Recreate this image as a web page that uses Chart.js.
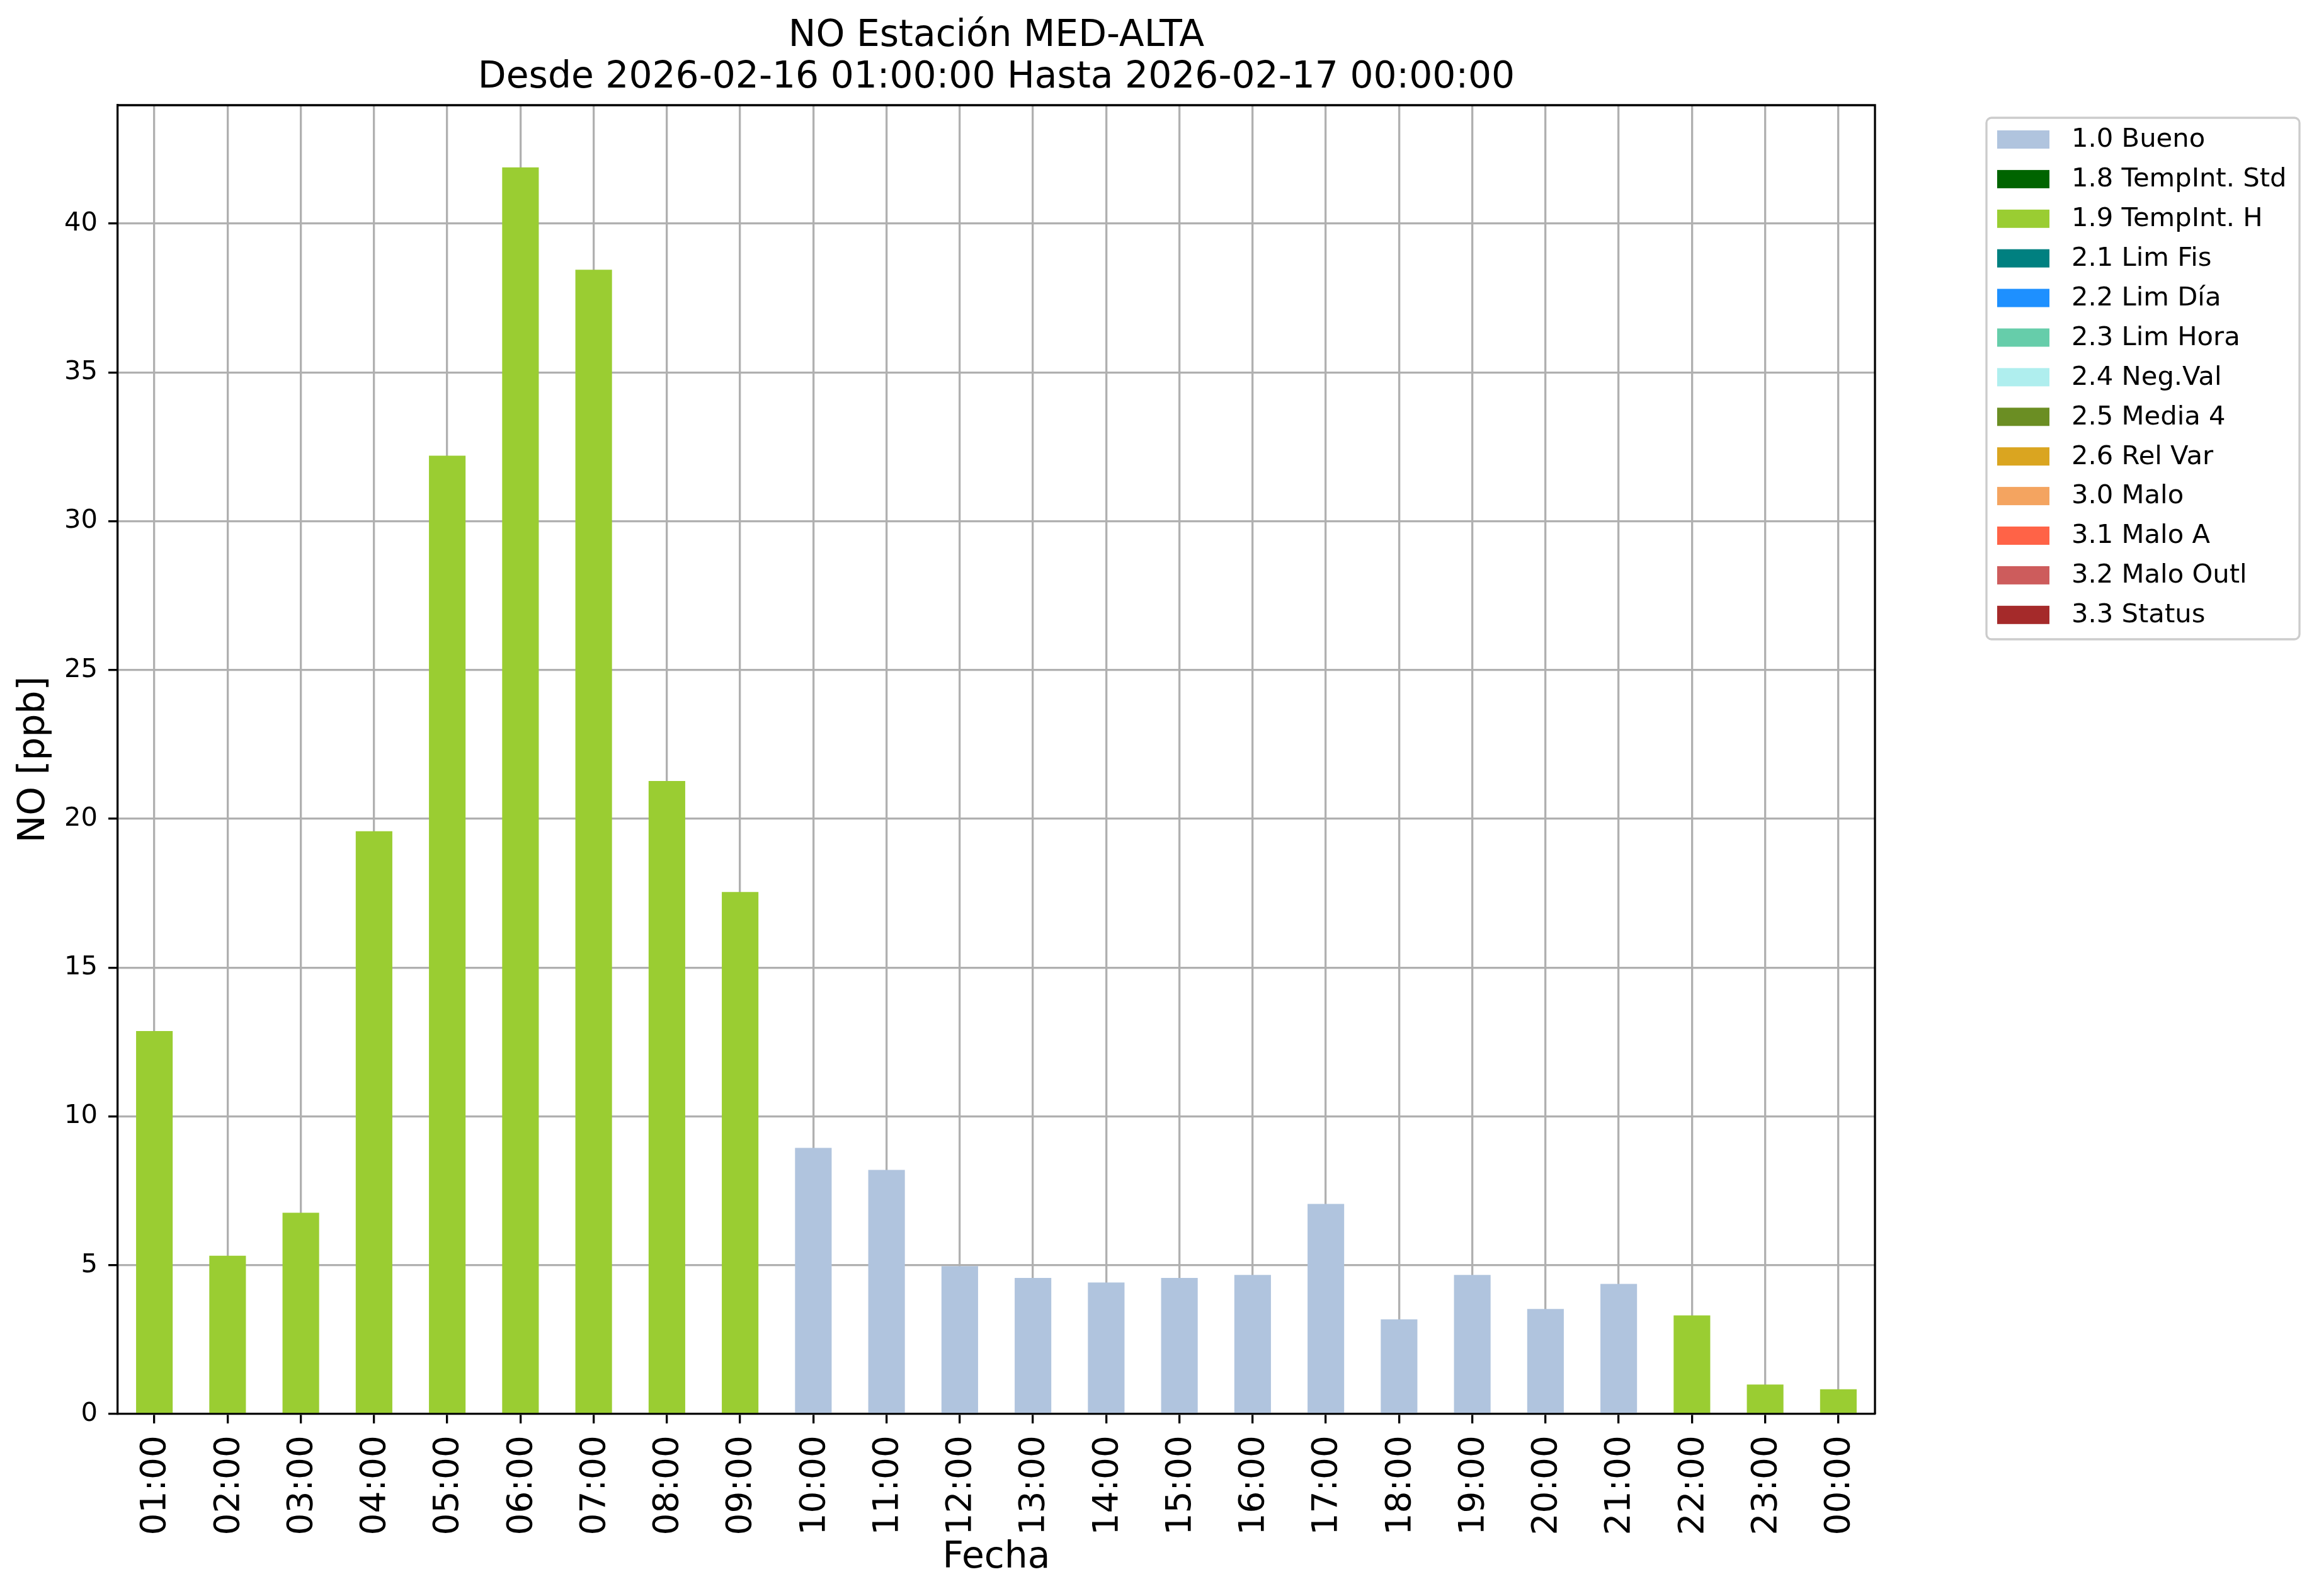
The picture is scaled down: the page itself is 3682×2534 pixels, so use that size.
<!DOCTYPE html>
<html>
<head>
<meta charset="utf-8">
<script src="https://cdn.jsdelivr.net/npm/chart.js@4.4.1/dist/chart.umd.min.js"></script>
<style>
  html, body { margin: 0; padding: 0; background: #fff; }
  #wrap { width: 3682px; height: 2534px; }
</style>
</head>
<body>
<div id="wrap"><canvas id="chart" width="3682" height="2534"></canvas></div>
<script>
/* --------------------------------------------------------------
   DATA
-------------------------------------------------------------- */

const hours = [
    "01:00", "02:00", "03:00", "04:00", "05:00", "06:00", "07:00", "08:00",
    "09:00", "10:00", "11:00", "12:00", "13:00", "14:00", "15:00", "16:00",
    "17:00", "18:00", "19:00", "20:00", "21:00", "22:00", "23:00", "00:00"
];

// NO [ppb] per hour
const noValues = [
    12.87, 5.32, 6.76, 19.58, 32.2, 41.89, 38.45, 21.27,
    17.54, 8.94, 8.2, 4.97, 4.57, 4.42, 4.57, 4.67,
    7.06, 3.18, 4.67, 3.53, 4.37, 3.31, 0.99, 0.83
];

// quality flag per hour
const hourFlags = [
    "1.9", "1.9", "1.9", "1.9", "1.9", "1.9", "1.9", "1.9",
    "1.9", "1.0", "1.0", "1.0", "1.0", "1.0", "1.0", "1.0",
    "1.0", "1.0", "1.0", "1.0", "1.0", "1.9", "1.9", "1.9"
];

const flagCodes = ["1.0", "1.8", "1.9", "2.1", "2.2", "2.3", "2.4", "2.5", "2.6", "3.0", "3.1", "3.2", "3.3"];
const flagNames = [
    "1.0 Bueno", "1.8 TempInt. Std", "1.9 TempInt. H", "2.1 Lim Fis", "2.2 Lim Día",
    "2.3 Lim Hora", "2.4 Neg.Val", "2.5 Media 4", "2.6 Rel Var", "3.0 Malo",
    "3.1 Malo A", "3.2 Malo Outl", "3.3 Status"
];
const flagColors = [
    "#B0C4DE", "#006400", "#9ACD32", "#008080", "#1E90FF", "#66CDAA", "#AFEEEE",
    "#6B8E23", "#DAA520", "#F4A460", "#FF6347", "#CD5C5C", "#A52A2A"
];

const yTicks = [0, 5, 10, 15, 20, 25, 30, 35, 40];
const yMax = 43.98;

/* --------------------------------------------------------------
   DATASETS (one stacked series per flag)
-------------------------------------------------------------- */

const datasets = flagCodes.map((code, k) => ({
    label: flagNames[k],
    data: noValues.map((v, i) => hourFlags[i] === code ? v : null),
    backgroundColor: flagColors[k],
    borderWidth: 0,
    barPercentage: 0.5,
    categoryPercentage: 1.0
}));

/* --------------------------------------------------------------
   PLUGINS: axes frame + legend box
-------------------------------------------------------------- */

const framePlugin = {
    id: "frame",
    afterDraw(chart) {
        const { ctx, chartArea: a } = chart;
        ctx.save();
        ctx.strokeStyle = "#000";
        ctx.lineWidth = 3.3;
        ctx.beginPath();
        ctx.moveTo(a.left, a.top);
        ctx.lineTo(a.right, a.top);
        ctx.lineTo(a.right, a.bottom);
        ctx.stroke();
        ctx.restore();
    }
};

const legendPlugin = {
    id: "sideLegend",
    afterDraw(chart) {
        const ctx = chart.ctx;
        const x0 = 3154, y0 = 187, w = 497, h = 828;
        ctx.save();
        ctx.fillStyle = "rgba(255,255,255,0.8)";
        ctx.strokeStyle = "#cccccc";
        ctx.lineWidth = 3.3;
        ctx.beginPath();
        ctx.roundRect(x0, y0, w, h, 8);
        ctx.fill();
        ctx.stroke();

        ctx.font = "41.7px 'DejaVu Sans'";
        ctx.textBaseline = "middle";
        ctx.textAlign = "left";
        chart.data.datasets.forEach((ds, i) => {
            const cy = 221.5 + i * 62.9;
            ctx.fillStyle = ds.backgroundColor;
            ctx.fillRect(3171, cy - 14.5, 83, 29);
            ctx.fillStyle = "#000";
            ctx.fillText(ds.label, 3289, cy + 1);
        });
        ctx.restore();
    }
};

/* --------------------------------------------------------------
   CHART
-------------------------------------------------------------- */

Chart.defaults.font.family = "'DejaVu Sans', sans-serif";
Chart.defaults.color = "#000";

new Chart(document.getElementById("chart"), {
    type: "bar",
    data: { labels: hours, datasets: datasets },
    options: {
        responsive: false,
        devicePixelRatio: 1,
        animation: false,
        layout: { padding: { left: 0, top: 0, right: 705, bottom: 0 } },
        plugins: {
            legend: { display: false },
            tooltip: { enabled: false },
            title: {
                display: true,
                fullSize: false,
                text: ["NO Estación MED-ALTA", "Desde 2026-02-16 01:00:00 Hasta 2026-02-17 00:00:00"],
                font: { size: 58.3, weight: "normal", lineHeight: 1.132 },
                padding: { top: 25, bottom: 10 }
            }
        },
        scales: {
            x: {
                stacked: true,
                z: 1,
                afterFit: s => { s.height = 289; },
                grid: {
                    offset: false,
                    color: "#b0b0b0",
                    lineWidth: 3.3,
                    tickColor: "#000",
                    tickWidth: 3.3,
                    tickLength: 15
                },
                border: { color: "#000", width: 3.3 },
                ticks: {
                    font: { size: 55 },
                    minRotation: 90,
                    maxRotation: 90,
                    padding: 19,
                    labelOffset: 3,
                    autoSkip: false
                },
                title: {
                    display: true,
                    text: "Fecha",
                    font: { size: 58.3 },
                    padding: { top: 0, bottom: 25 }
                }
            },
            y: {
                stacked: true,
                z: 1,
                min: 0,
                max: yMax,
                afterFit: s => { s.width = 187; },
                afterBuildTicks: s => {
                    s.ticks = yTicks.map(v => ({ value: v }));
                },
                grid: {
                    color: "#b0b0b0",
                    lineWidth: 3.3,
                    tickColor: "#000",
                    tickWidth: 3.3,
                    tickLength: 15
                },
                border: { color: "#000", width: 3.3 },
                ticks: {
                    font: { size: 41.7 },
                    padding: 17
                },
                title: {
                    display: true,
                    text: "NO [ppb]",
                    font: { size: 58.3 },
                    padding: { top: 20, bottom: 0 }
                }
            }
        }
    },
    plugins: [framePlugin, legendPlugin]
});
</script>
</body>
</html>
